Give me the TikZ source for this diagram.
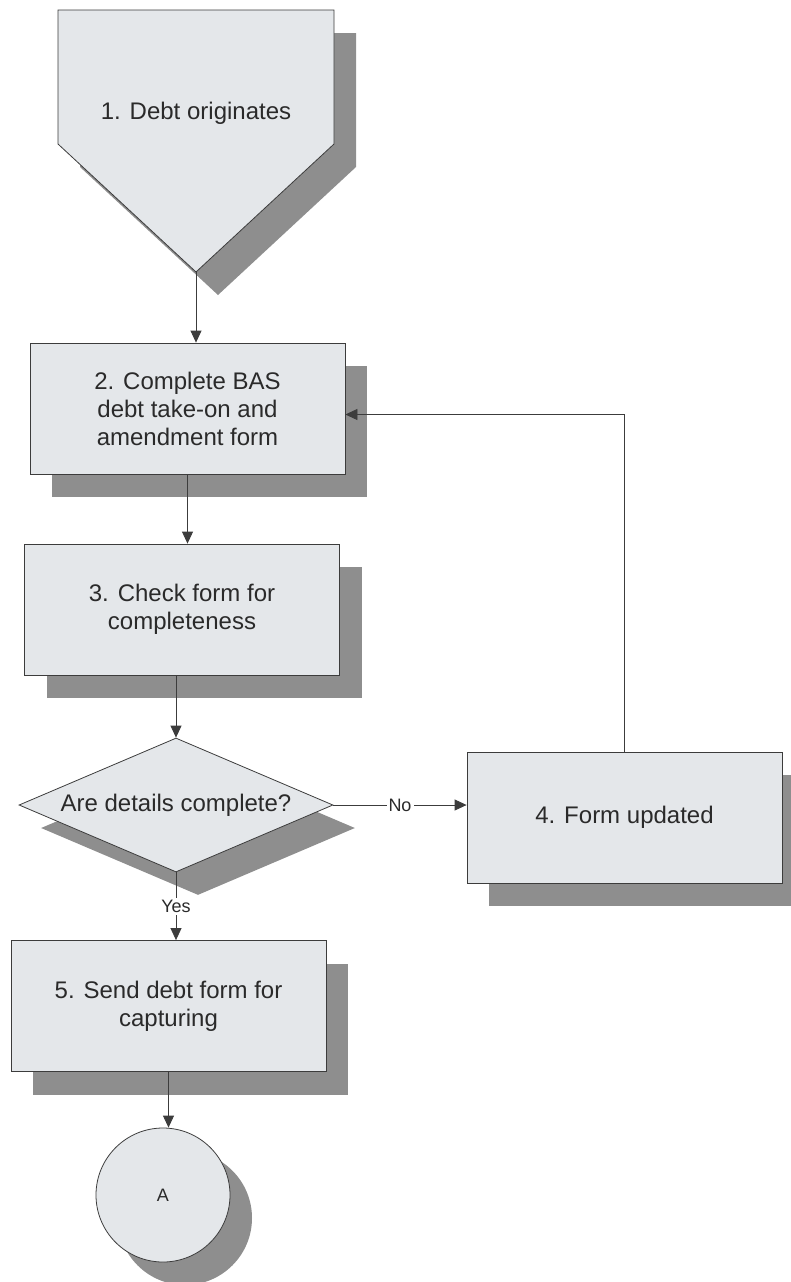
\documentclass[tikz,border=0pt]{standalone}
\usepackage{fontspec}
\setmainfont{Liberation Sans}
\usetikzlibrary{arrows.meta,shapes.geometric,shadows}
\definecolor{boxfill}{HTML}{E4E7EA}
\definecolor{shadowgray}{HTML}{8E8E8E}
\definecolor{linegray}{HTML}{3C3C3C}
\definecolor{textgray}{HTML}{2A2A2A}
\begin{document}
\begin{tikzpicture}[x=1pt,y=-1pt,
  bigtext/.style={font=\fontsize{24}{28}\selectfont,text=textgray},
  shadowed/.style={drop shadow={shadow xshift=22pt,shadow yshift=-23pt,fill=shadowgray,opacity=1}},
  procbox/.style={rectangle,draw=linegray,line width=0.8pt,fill=boxfill,
    minimum width=315pt,minimum height=131pt,align=center,inner sep=0pt,bigtext,shadowed},
  decision/.style={diamond,draw=linegray,line width=0.8pt,fill=boxfill,
    minimum width=314pt,minimum height=134pt,inner sep=0pt,aspect=2.34,bigtext,shadowed},
  offpage/.style={circle,draw=linegray,line width=0.8pt,fill=boxfill,
    minimum size=134pt,inner sep=0pt,font=\fontsize{18}{20}\selectfont,text=textgray,shadowed},
  lbl/.style={font=\fontsize{18}{20}\selectfont,fill=white,inner sep=2pt,text=textgray},
  arr/.style={draw=linegray,line width=0.8pt,-{Triangle[length=12pt,width=11pt]}}
]
\useasboundingbox (0,0) rectangle (791,1282);
% 1. pentagon (off-page start)
\fill[shadowgray,shift={(22,23)}] (58,10) -- (334,10) -- (334,144) -- (196,272) -- (58,144) -- cycle;
\draw[linegray,line width=0.8pt,fill=boxfill] (58,10) -- (334,10) -- (334,144) -- (196,272) -- (58,144) -- cycle;
\node[bigtext] (n1) at (196,113) {1. Debt originates};
\coordinate (n1tip) at (196,272);
% process boxes
\node[procbox] (n2) at (187.5,408.5) {2. Complete BAS\\debt take-on and\\amendment form};
\node[procbox] (n3) at (182,609.5) {3. Check form for\\completeness};
\node[decision] (d) at (176,805) {Are details complete?};
\node[procbox] (n4) at (624.5,817.5) {4. Form updated};
\node[procbox] (n5) at (168.5,1006) {5. Send debt form for\\capturing};
\node[offpage] (a) at (163,1195) {A};
% connectors
\draw[arr] (n1tip) -- (n1tip |- n2.north);
\draw[arr] (n2.south) -- (n2.south |- n3.north);
\draw[arr] (d.north |- n3.south) -- (d.north);
\draw[arr] (d.south) -- node[lbl] {Yes} (d.south |- n5.north);
\draw[arr] (n5.south) -- (n5.south |- a.north);
\draw[arr] (d.east) -- node[lbl] {No} (d.east -| n4.west);
\coordinate (loopin) at ([yshift=-6pt]n2.east);
\draw[arr] (n4.north) |- (loopin);
\end{tikzpicture}
\end{document}
